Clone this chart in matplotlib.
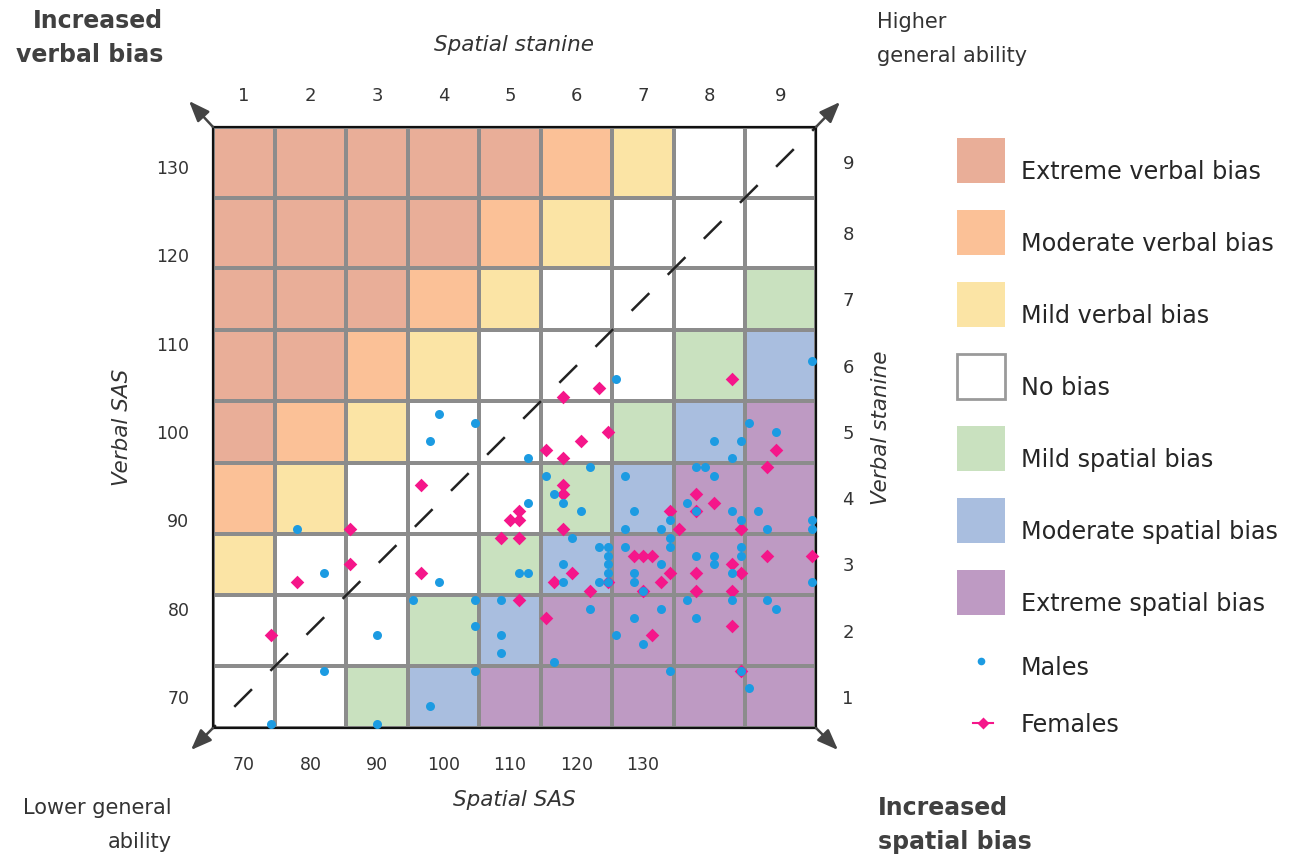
import matplotlib
matplotlib.use("Agg")
import matplotlib.pyplot as plt
from matplotlib.colors import ListedColormap
from matplotlib.patches import Rectangle
import numpy as np

# stanine boundaries on the SAS scale (same for both axes)
sas_bounds = [66.5, 73.5, 81.5, 88.5, 96.5, 103.5, 111.5, 118.5, 126.5, 134.5]
stanine_labels = ["1", "2", "3", "4", "5", "6", "7", "8", "9"]
sas_labels = [70, 80, 90, 100, 110, 120, 130]

bias_names = ["Extreme verbal bias", "Moderate verbal bias", "Mild verbal bias", "No bias",
              "Mild spatial bias", "Moderate spatial bias", "Extreme spatial bias"]
bias_colors = ["#E9AE98", "#FBC197", "#FBE4A5", "#FFFFFF", "#C9E1BF", "#A9BEDF", "#BE9AC3"]

# bias level per cell: rows = verbal stanine 1..9, cols = spatial stanine 1..9
# 3 = extreme verbal, 0 = no bias, -3 = extreme spatial
bias_grid = [
    [0, 0, -1, -2, -3, -3, -3, -3, -3],
    [0, 0, 0, -1, -2, -3, -3, -3, -3],
    [1, 0, 0, 0, -1, -2, -3, -3, -3],
    [2, 1, 0, 0, 0, -1, -2, -3, -3],
    [3, 2, 1, 0, 0, 0, -1, -2, -3],
    [3, 3, 2, 1, 0, 0, 0, -1, -2],
    [3, 3, 3, 2, 1, 0, 0, 0, -1],
    [3, 3, 3, 3, 2, 1, 0, 0, 0],
    [3, 3, 3, 3, 3, 2, 1, 0, 0],
]

male_spatial = [76, 79, 89, 85, 79, 73, 85, 92, 96, 91, 102, 109, 104, 105, 102, 106, 108, 107,
                92, 101, 102, 110, 111, 111, 111, 111, 106, 106, 110, 111, 96, 99, 109, 96, 99,
                99, 105, 96, 91, 112, 134, 127, 130, 123, 126, 125, 121, 122, 123, 113, 120, 121,
                114, 125, 128, 118, 126, 134, 113, 117, 129, 134, 118, 118, 113, 121, 123, 126,
                126, 117, 123, 114, 125, 114, 115, 134, 120, 125, 129, 117, 130, 114, 121, 112,
                115, 118, 126, 127]
male_verbal = [89, 84, 81, 77, 73, 67, 67, 102, 101, 99, 97, 96, 95, 93, 92, 92, 91, 88,
               83, 84, 84, 87, 87, 86, 85, 84, 85, 83, 83, 83, 81, 81, 80, 78, 77,
               75, 74, 73, 69, 106, 108, 101, 100, 99, 99, 97, 96, 96, 95, 95, 92, 91,
               91, 91, 91, 90, 90, 90, 89, 89, 89, 89, 88, 87, 87, 86, 86, 87,
               86, 85, 85, 84, 84, 83, 82, 83, 81, 81, 81, 80, 80, 79, 79, 77,
               76, 73, 73, 71]

female_spatial = [82, 90, 82, 76, 90, 73, 106, 110, 104, 106, 108, 111, 106, 106, 101, 100, 101,
                  99, 101, 106, 107, 105, 109, 101, 104, 125, 130, 129, 121, 123, 121, 118, 119,
                  126, 114, 115, 116, 129, 134, 125, 118, 121, 126, 111, 117, 115, 121, 125, 125,
                  116, 126]
female_verbal = [89, 94, 85, 83, 84, 77, 104, 105, 98, 97, 99, 100, 94, 93, 91, 90, 90,
                 88, 88, 89, 84, 83, 82, 81, 79, 106, 98, 96, 93, 92, 91, 91, 89,
                 89, 86, 86, 86, 86, 86, 85, 84, 84, 84, 83, 83, 82, 82, 82, 78,
                 77, 73]

male_color = "#1C9BE2"
female_color = "#F5168A"
text_color = "#333333"

W, H = 1298, 858
fig = plt.figure(figsize=(W / 100, H / 100), dpi=100)
ax = fig.add_axes([213 / W, 1 - 728 / H, 603 / W, 601 / H])

# coloured stanine grid
codes = 3 - np.array(bias_grid)
ax.pcolormesh(sas_bounds, sas_bounds, codes, cmap=ListedColormap(bias_colors),
              vmin=-0.5, vmax=6.5, edgecolors="#8C8C8C", linewidth=1.5)

# diagonal of equal ability
ax.plot([sas_bounds[0], sas_bounds[-1]], [sas_bounds[0], sas_bounds[-1]],
        color="#222222", lw=1.8, ls=(8.4, (10, 10.4)), zorder=2)

ax.scatter(female_spatial, female_verbal, marker="D", s=48, color=female_color,
           linewidths=0, zorder=3, clip_on=False)
ax.scatter(male_spatial, male_verbal, marker="o", s=42, color=male_color,
           linewidths=0, zorder=4, clip_on=False)

ax.set_xlim(sas_bounds[0], sas_bounds[-1])
ax.set_ylim(sas_bounds[0], sas_bounds[-1])
for sp in ax.spines.values():
    sp.set_color("#111111")
    sp.set_linewidth(1.6)

centers = [(a + b) / 2 for a, b in zip(sas_bounds[:-1], sas_bounds[1:])]
ax.set_xticks(centers[:len(sas_labels)], [str(v) for v in sas_labels])
ax.set_yticks(sas_labels, [str(v) for v in sas_labels])
ax.tick_params(axis="x", length=0, pad=20, labelsize=12.5, labelcolor=text_color)
ax.tick_params(axis="y", length=0, pad=17, labelsize=12.5, labelcolor=text_color)

top = ax.secondary_xaxis("top")
top.set_xticks(centers, stanine_labels)
top.tick_params(length=0, pad=16, labelsize=13, labelcolor=text_color)
top.spines["top"].set_visible(False)
right = ax.secondary_yaxis("right")
right.set_yticks(centers, stanine_labels)
right.tick_params(length=0, pad=19, labelsize=13, labelcolor=text_color)
right.spines["right"].set_visible(False)

# overlay in image pixels for titles, arrows and legend
ov = fig.add_axes([0, 0, 1, 1])
ov.set_xlim(0, W)
ov.set_ylim(H, 0)
ov.set_axis_off()
ov.patch.set_visible(False)

ov.text(514.5, 45, "Spatial stanine", style="italic", ha="center", va="center",
        fontsize=15.5, color=text_color)
ov.text(514.5, 800, "Spatial SAS", style="italic", ha="center", va="center",
        fontsize=15.5, color=text_color)
ov.text(122, 427.5, "Verbal SAS", style="italic", rotation=90, ha="center", va="center",
        fontsize=15.5, color=text_color)
ov.text(881, 427.5, "Verbal stanine", style="italic", rotation=90, ha="center", va="center",
        fontsize=15.5, color=text_color)

ov.text(163, 38, "Increased\nverbal bias", ha="right", va="center", multialignment="right",
        fontsize=17, fontweight="bold", color="#404040", linespacing=1.55)
ov.text(877, 39, "Higher\ngeneral ability", ha="left", va="center",
        fontsize=15, color=text_color, linespacing=1.85)
ov.text(172, 825, "Lower general\nability", ha="right", va="center", multialignment="right",
        fontsize=15, color=text_color, linespacing=1.85)
ov.text(878, 825, "Increased\nspatial bias", ha="left", va="center",
        fontsize=17, fontweight="bold", color="#404040", linespacing=1.55)

arrows = [((213, 127), (189, 101)), ((816, 127), (840, 102)),
          ((213, 728), (191, 750)), ((816, 728), (838, 750))]
for (x0, y0), (x1, y1) in arrows:
    ov.annotate("", xy=(x1, y1), xytext=(x0, y0),
                arrowprops=dict(arrowstyle="-|>,head_length=0.9,head_width=0.35",
                                color="#444444", lw=1.8, shrinkA=0, shrinkB=0,
                                mutation_scale=14))

# legend
for i, (name, col) in enumerate(zip(bias_names, bias_colors)):
    y_top = 138 + i * 72
    edge = "#9A9A9A" if col == "#FFFFFF" else "none"
    ov.add_patch(Rectangle((957, y_top), 48, 45, facecolor=col, edgecolor=edge, lw=2))
    ov.text(1021, y_top + 34, name, va="center", ha="left", fontsize=17.2, color="#262626")

ov.plot([981], [661], "o", ms=5.5, color=male_color, mec="none")
ov.text(1021, 668, "Males", va="center", ha="left", fontsize=17.2, color="#262626")
ov.plot([973, 993], [723, 723], "-", lw=1.5, color=female_color)
ov.plot([983], [723], "D", ms=6, color=female_color, mec="none")
ov.text(1021, 725, "Females", va="center", ha="left", fontsize=17.2, color="#262626")

fig.savefig("out.png", dpi=100)
